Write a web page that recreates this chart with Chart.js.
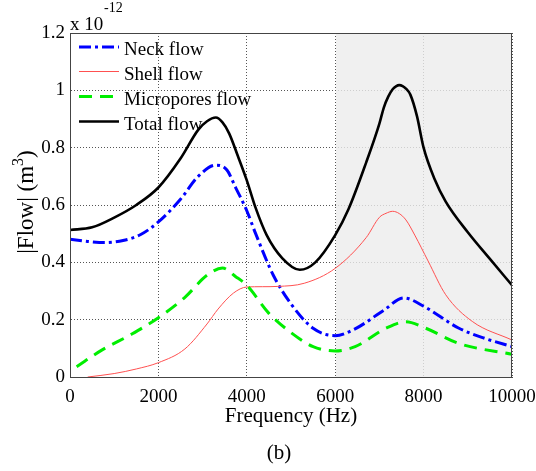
<!DOCTYPE html>
<html>
<head>
<meta charset="utf-8">
<script src="https://cdn.jsdelivr.net/npm/chart.js@4"></script>
<style>
  body { margin: 0; background: #fff; }
</style>
</head>
<body>
<canvas id="myChart" width="536" height="471"></canvas>
<script>
// values, flow in units of 1e-12 m^3
const neckFreq = [0, 400, 800, 1200, 1600, 2000, 2500, 2900, 3300, 3550, 3750, 4000, 4200, 4600, 5000, 5500, 6000, 6450, 7100, 7550, 8000, 8800, 9400, 10000];
const neckFlow = [0.481, 0.473, 0.469, 0.476, 0.497, 0.541, 0.620, 0.700, 0.739, 0.722, 0.660, 0.580, 0.500, 0.355, 0.255, 0.170, 0.144, 0.168, 0.233, 0.276, 0.247, 0.170, 0.134, 0.106];

const shellFreq = [400, 1000, 1500, 2000, 2600, 3100, 3350, 3700, 4000, 4350, 4700, 5300, 6000, 6700, 7000, 7150, 7300, 7450, 7600, 7800, 8100, 8500, 9100, 10000];
const shellFlow = [0.000, 0.012, 0.028, 0.050, 0.098, 0.185, 0.237, 0.293, 0.314, 0.315, 0.316, 0.327, 0.379, 0.486, 0.557, 0.571, 0.578, 0.570, 0.548, 0.495, 0.405, 0.287, 0.194, 0.129];

const microFreq = [150, 700, 1400, 2000, 2600, 3100, 3450, 3750, 4000, 4500, 5000, 5500, 6000, 6450, 7150, 7600, 8050, 8800, 10000];
const microFlow = [0.036, 0.092, 0.150, 0.207, 0.278, 0.355, 0.380, 0.350, 0.320, 0.222, 0.155, 0.106, 0.091, 0.106, 0.170, 0.193, 0.170, 0.117, 0.079];

const totalFreq = [0, 500, 1000, 1500, 2000, 2500, 2900, 3100, 3300, 3450, 3600, 3800, 4000, 4200, 4450, 4800, 5200, 5550, 6000, 6300, 6700, 7000, 7100, 7200, 7300, 7375, 7450, 7525, 7600, 7700, 7850, 8000, 8250, 8500, 9000, 9500, 10000];
const totalFlow = [0.513, 0.522, 0.556, 0.600, 0.661, 0.762, 0.862, 0.892, 0.905, 0.888, 0.850, 0.770, 0.686, 0.590, 0.495, 0.415, 0.374, 0.400, 0.495, 0.585, 0.748, 0.884, 0.940, 0.978, 1.004, 1.014, 1.018, 1.015, 1.006, 0.985, 0.910, 0.800, 0.690, 0.612, 0.505, 0.412, 0.320];

const shadeFrom = 6000;
const serif = '"Liberation Serif", "Times New Roman", serif';

const toPoints = (xs, ys) => xs.map((x, i) => ({ x: x, y: ys[i] }));

// grey band over the upper frequency range
const shadePlugin = {
	id: 'shade',
	beforeDatasetsDraw(chart) {
		const { ctx, chartArea, scales } = chart;
		const x0 = Math.round(scales.x.getPixelForValue(shadeFrom)) + 1;
		ctx.save();
		ctx.fillStyle = 'rgba(236,236,236,0.8)';
		ctx.fillRect(x0, chartArea.top, chartArea.right - x0, chartArea.bottom - chartArea.top);
		ctx.restore();
	}
};

// box, in-plot legend and the extra labels
const decorPlugin = {
	id: 'decor',
	afterDatasetsDraw(chart) {
		const { ctx, chartArea } = chart;
		const { left, right, top, bottom } = chartArea;
		ctx.save();
		ctx.strokeStyle = '#444';
		ctx.lineWidth = 1;
		ctx.setLineDash([]);
		ctx.strokeRect(left + 0.5, top + 0.5, right - left - 1, bottom - top);

		// legend
		const rowY = [47, 71.5, 96.5, 121.5];
		chart.data.datasets.forEach((ds, i) => {
			const y = rowY[i];
			ctx.beginPath();
			ctx.strokeStyle = ds.borderColor;
			ctx.lineWidth = ds.borderWidth;
			ctx.setLineDash(ds.borderDash || []);
			ctx.moveTo(79, y);
			ctx.lineTo(119, y);
			ctx.stroke();
			ctx.setLineDash([]);
			ctx.fillStyle = '#000';
			ctx.font = '19px ' + serif;
			ctx.textAlign = 'left';
			ctx.textBaseline = 'alphabetic';
			ctx.fillText(ds.label, 124, y + 8);
		});
		ctx.restore();
	},
	afterDraw(chart) {
		const { ctx } = chart;
		ctx.save();
		ctx.fillStyle = '#000';
		ctx.textBaseline = 'alphabetic';

		// exponent
		ctx.textAlign = 'left';
		ctx.font = '19px ' + serif;
		ctx.fillText('x 10', 70, 30);
		ctx.font = '14px ' + serif;
		ctx.fillText('-12', 104, 12);

		// axis titles
		ctx.textAlign = 'center';
		ctx.font = '21px ' + serif;
		ctx.fillText('Frequency (Hz)', 291, 422);
		ctx.fillText('(b)', 279, 459);

		// y title with a raised exponent, read bottom to top
		ctx.translate(33, 0);
		ctx.rotate(-Math.PI / 2);
		ctx.textAlign = 'left';
		const main = '|Flow| (m';
		const big = '23px ' + serif;
		const small = '16px ' + serif;
		ctx.font = big;
		const w1 = ctx.measureText(main).width;
		const w3 = ctx.measureText(')').width;
		ctx.font = small;
		const w2 = ctx.measureText('3').width;
		let x = -202 - (w1 + w2 + w3) / 2;
		ctx.font = big;
		ctx.fillText(main, x, 0);
		x += w1;
		ctx.font = small;
		ctx.fillText('3', x, -10);
		x += w2;
		ctx.font = big;
		ctx.fillText(')', x, 0);
		ctx.restore();
	}
};

new Chart(document.getElementById('myChart'), {
	type: 'line',
	data: {
		datasets: [
			{
				label: 'Neck flow',
				data: toPoints(neckFreq, neckFlow),
				borderColor: '#0000ff',
				borderWidth: 3,
				borderDash: [12, 4, 3, 4],
				order: 4,
			},
			{
				label: 'Shell flow',
				data: toPoints(shellFreq, shellFlow),
				borderColor: '#ff5050',
				borderWidth: 1,
				order: 3,
			},
			{
				label: 'Micropores flow',
				data: toPoints(microFreq, microFlow),
				borderColor: '#00ee00',
				borderWidth: 3,
				borderDash: [13, 8],
				order: 2,
			},
			{
				label: 'Total flow',
				data: toPoints(totalFreq, totalFlow),
				borderColor: '#000000',
				borderWidth: 2.6,
				order: 1,
			}
		]
	},
	options: {
		responsive: false,
		animation: false,
		devicePixelRatio: 1,
		layout: { padding: { left: 0, top: 33, right: 24, bottom: 0 } },
		elements: {
			point: { radius: 0 },
			line: { cubicInterpolationMode: 'monotone', fill: false }
		},
		plugins: {
			legend: { display: false },
			tooltip: { enabled: false }
		},
		scales: {
			x: {
				type: 'linear',
				min: 0,
				max: 10000,
				ticks: {
					stepSize: 2000,
					color: '#000',
					padding: 9,
					maxRotation: 0,
					font: { family: serif, size: 19 },
					callback: v => String(v)
				},
				grid: { color: '#555', drawTicks: false },
				border: { color: '#444', dash: [1, 2] },
				afterFit: s => { s.height = 94; s.paddingLeft = 0; s.paddingRight = 0; }
			},
			y: {
				min: 0,
				max: 1.2,
				ticks: {
					stepSize: 0.2,
					color: '#000',
					padding: 5,
					font: { family: serif, size: 19 },
					callback: v => String(+v.toFixed(1))
				},
				grid: { color: '#555', drawTicks: false },
				border: { color: '#444', dash: [1, 2] },
				afterFit: s => { s.width = 70; s.paddingTop = 0; s.paddingBottom = 0; }
			}
		}
	},
	plugins: [shadePlugin, decorPlugin]
});
</script>
</body>
</html>
